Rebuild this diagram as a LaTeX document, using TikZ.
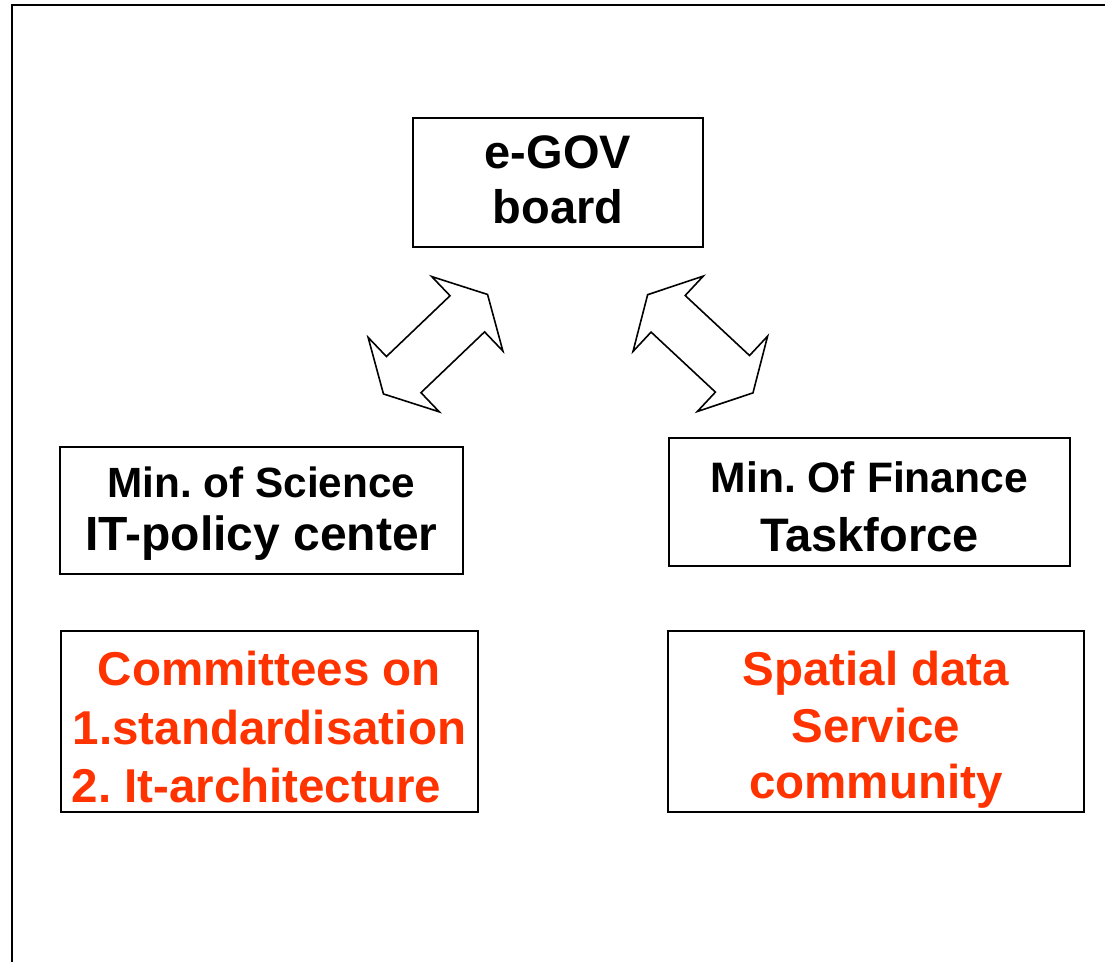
\documentclass[tikz,border=0pt]{standalone}
\usepackage{fontspec}
\setmainfont{Liberation Sans}
\usetikzlibrary{positioning, calc}
\definecolor{orgred}{RGB}{255,51,0}
\frenchspacing

\begin{document}
\begin{tikzpicture}[x=1pt, y=-1pt,
  box/.style={draw, line width=1.8pt, inner sep=0pt, align=center, anchor=north west},
  redbox/.style={box, text=orgred, font=\bfseries\fontsize{47.5}{58.5}\selectfont},
  dblarrow/.pic={\draw[line width=1.6pt, line join=miter] (72,0) -- (44,51.5) -- (44,25) -- (-44,25) -- (-44,51.5) -- (-72,0) -- (-44,-51.5) -- (-44,-25) -- (44,-25) -- (44,-51.5) -- cycle;}]
\useasboundingbox (0,0) rectangle (1105,961);
\clip (0,0) rectangle (1105,961);
%frame
\draw[line width=2.5pt] (12,980) -- (12,5) -- (1120,5);

%nodes
\node[box, minimum width=290pt, minimum height=129pt, font=\bfseries\fontsize{47}{55}\selectfont] (egov) at (412,117) {e-GOV\\board\rule[-6pt]{0pt}{6pt}};
\node[box, minimum width=403pt, minimum height=127pt, font=\bfseries\fontsize{48}{53}\selectfont] (science) at (59,446) {{\fontsize{42.3}{53}\selectfont\rule{0pt}{38pt}Min. of Science}\\IT-policy center};
\node[box, minimum width=401pt, minimum height=128pt, font=\bfseries\fontsize{47}{59}\selectfont] (finance) at (668,437) {{\fontsize{42.6}{59}\selectfont\rule{0pt}{41pt}Min. Of Finance}\\Taskforce};
\node[redbox, minimum width=417pt, minimum height=181pt] (committees) at (60,630) {\rule{0pt}{46pt}Committees on\\1.standardisation\\2. It-architecture\kern26pt};
\node[redbox, minimum width=416pt, minimum height=181pt, font=\bfseries\fontsize{47.5}{56.5}\selectfont] (spatial) at (667,630) {\rule{0pt}{52pt}Spatial data\\Service\\community};

%arrows
\pic[rotate=43.7] (sciarrow) at (435.5,344.2) {dblarrow};
\pic[rotate=-43] (finarrow) at (700.3,343.8) {dblarrow};
\end{tikzpicture}
\end{document}
